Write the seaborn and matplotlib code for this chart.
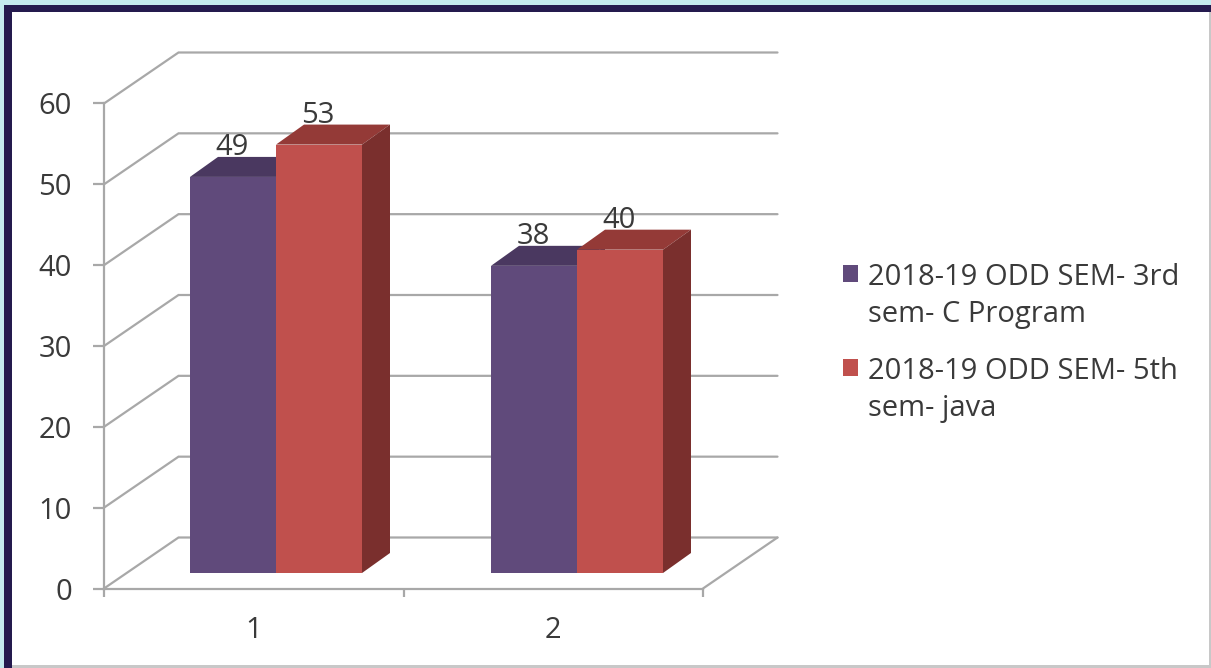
import matplotlib
matplotlib.use("Agg")
import matplotlib.pyplot as plt
from matplotlib.patches import Rectangle, Polygon
from matplotlib.legend_handler import HandlerPatch
import pandas as pd
import seaborn as sns

categories = ["1", "2"]
series_names = ["2018-19 ODD SEM- 3rd\nsem- C Program", "2018-19 ODD SEM- 5th\nsem- java"]
series_a = [49, 38]
series_b = [53, 40]
y_ticks = [0, 10, 20, 30, 40, 50, 60]
front_colors = ["#604A7B", "#C0504D"]
top_colors = ["#4A3860", "#943A37"]
side_colors = ["#4A3860", "#7A2F2D"]

W, H = 1211, 668
sns.set_theme(style="white")
plt.rcParams["font.family"] = ["Open Sans", "DejaVu Sans"]
TXT = "#3A3A3A"
GRID = "#A8A8A8"
FS = 21

fig = plt.figure(figsize=(W / 100, H / 100), dpi=100, facecolor="white")

def fig_box(x0, y0, x1, y1):
    return [x0 / W, 1 - y1 / H, (x1 - x0) / W, (y1 - y0) / H]

# page frame
for box, col in [((0, 0, W, 6), "#C4EAEE"), ((0, 0, 4, H), "#C4EAEE"),
                 ((4, 5, W, 12), "#241A4E"), ((4, 5, 12, H), "#241A4E"),
                 ((12, 665, W, H), "#C8C8C8"), ((1209, 12, W, H), "#C8C8C8")]:
    b = fig_box(*box)
    fig.add_artist(Rectangle((b[0], b[1]), b[2], b[3], transform=fig.transFigure,
                             facecolor=col, edgecolor="none"))

# front axis plane
ax = fig.add_axes(fig_box(104, 103.5, 703, 588.5))
ax.set_xlim(-0.5, 1.5)
ax.set_ylim(0, 60)
ax.patch.set_alpha(0)
PX_X = 2 / 599
PX_Y = 60 / 485
back_dx, back_dy = 74.5 * PX_X, 51 * PX_Y

for v in y_ticks:
    ax.plot([-0.5, -0.5 + back_dx, 1.5 + back_dx], [v, v + back_dy, v + back_dy],
            color=GRID, lw=1.6, clip_on=False, zorder=1, solid_joinstyle="miter")
ax.plot([1.5, 1.5 + back_dx], [0, back_dy], color=GRID, lw=1.6, clip_on=False, zorder=1)

ax.set_xticks([-0.5, 0.5, 1.5], minor=False)
ax.set_xticklabels([])
ax.set_yticks(y_ticks)
ax.tick_params(axis="y", length=8, width=1.6, color=GRID, labelsize=FS, labelcolor=TXT, pad=15, left=True)
ax.tick_params(axis="x", length=6, width=1.6, color=GRID, bottom=True)
for name, sp in ax.spines.items():
    sp.set_visible(name in ("left", "bottom"))
    sp.set_color(GRID)
    sp.set_linewidth(1.6)
ax.set_xlabel("")
for i, c in enumerate(categories):
    ax.annotate(c, (i, 0), xytext=(0, -49), textcoords="offset pixels",
                ha="center", va="baseline", fontsize=FS, color=TXT, annotation_clip=False)

# bar plane, shifted into the depth of the floor
bx = fig.add_axes(fig_box(125.5, 88, 727.5, 573))
bx.patch.set_alpha(0)
bx.axis("off")

df = pd.DataFrame({
    "category": categories * 2,
    "series": [series_names[0]] * 2 + [series_names[1]] * 2,
    "value": series_a + series_b,
})
sns.barplot(data=df, x="category", y="value", hue="series", order=categories,
            hue_order=series_names, palette=front_colors, width=172 / 301, gap=0,
            saturation=1, ax=bx, linewidth=0)
bx.set_xlim(-0.5, 1.5)
bx.set_ylim(0, 60)

dx, dy = 28 * 2 / 602, 20 * PX_Y
for idx, cont in enumerate(bx.containers):
    for p in cont.patches:
        x0, x1, h = p.get_x(), p.get_x() + p.get_width(), p.get_height()
        p.set_zorder(3 + 2 * idx)
        bx.add_patch(Polygon([(x0, h), (x1, h), (x1 + dx, h + dy), (x0 + dx, h + dy)],
                             facecolor=top_colors[idx], edgecolor="none", zorder=2 + 2 * idx))
        bx.add_patch(Polygon([(x1, 0), (x1 + dx, dy), (x1 + dx, h + dy), (x1, h)],
                             facecolor=side_colors[idx], edgecolor="none", zorder=2 + 2 * idx))
        bx.annotate(f"{h:.0f}", ((x0 + x1) / 2, h), xytext=(-1, 22), textcoords="offset pixels",
                    ha="center", va="baseline", fontsize=FS, color=TXT, zorder=10,
                    annotation_clip=False)

def raised_square(legend, orig_handle, xdescent, ydescent, width, height, fontsize):
    return Rectangle((-xdescent, -ydescent + 16.5), width, height)

handles, labels = bx.get_legend_handles_labels()
leg = bx.legend(handles, labels, loc="upper left", frameon=False, fontsize=FS,
                bbox_to_anchor=(843 / W, 1 - 263 / H), bbox_transform=fig.transFigure,
                handlelength=0.52, handleheight=0.52, handletextpad=0.35,
                labelspacing=0.97, borderpad=0, borderaxespad=0, labelcolor=TXT,
                handler_map={h: HandlerPatch(patch_func=raised_square) for h in handles})
for t in leg.get_texts():
    t.set_linespacing(1.36)

fig.savefig("out.png", dpi=100, facecolor=fig.get_facecolor())
